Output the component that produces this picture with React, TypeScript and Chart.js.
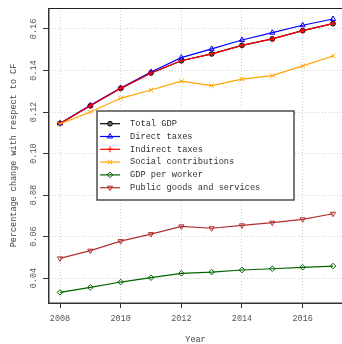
import React, { useEffect, useRef } from 'react';
import { Chart, registerables } from 'chart.js';
import { drawPoint } from 'chart.js/helpers';

Chart.register(...registerables);

const years = [2008, 2009, 2010, 2011, 2012, 2013, 2014, 2015, 2016, 2017];
const totalGDP = [0.1145, 0.1230, 0.1314, 0.1388, 0.1447, 0.1480, 0.1521, 0.1552, 0.1592, 0.1626];
const directTaxes = [0.1145, 0.1232, 0.1316, 0.1393, 0.1462, 0.1504, 0.1547, 0.1582, 0.1618, 0.1648];
const indirectTaxes = [0.1145, 0.1230, 0.1314, 0.1388, 0.1447, 0.1480, 0.1521, 0.1552, 0.1592, 0.1626];
const socialContributions = [0.1143, 0.1200, 0.1266, 0.1306, 0.1349, 0.1327, 0.1358, 0.1375, 0.1422, 0.1470];
const gdpPerWorker = [0.0331, 0.0355, 0.0381, 0.0402, 0.0423, 0.0429, 0.0439, 0.0445, 0.0452, 0.0458];
const publicGoods = [0.0495, 0.0532, 0.0578, 0.0612, 0.0649, 0.0640, 0.0654, 0.0667, 0.0683, 0.0710];

const xTicks = [2008, 2010, 2012, 2014, 2016];
const yTicks = [0.04, 0.06, 0.08, 0.10, 0.12, 0.14, 0.16];

const seriesNames = [
  'Total GDP',
  'Direct taxes',
  'Indirect taxes',
  'Social contributions',
  'GDP per worker',
  'Public goods and services',
];

const MONO = "'Liberation Mono', 'DejaVu Sans Mono', monospace";

type Style = {
  color: string;
  fill: string;
  pointStyle: string;
  radius: number;
  rotation: number;
};

const styles: Style[] = [
  { color: '#000000', fill: '#666666', pointStyle: 'circle', radius: 2.4, rotation: 0 },
  { color: '#0000ff', fill: 'rgba(255,255,255,0)', pointStyle: 'triangle', radius: 3, rotation: 0 },
  { color: '#ff0000', fill: 'rgba(255,255,255,0)', pointStyle: 'cross', radius: 3, rotation: 0 },
  { color: '#ffa500', fill: 'rgba(255,255,255,0)', pointStyle: 'crossRot', radius: 3.2, rotation: 0 },
  { color: '#006400', fill: 'rgba(255,255,255,0)', pointStyle: 'rectRot', radius: 2.8, rotation: 0 },
  { color: '#b0302f', fill: 'rgba(255,255,255,0)', pointStyle: 'triangle', radius: 3, rotation: 180 },
];

const seriesValues = [totalGDP, directTaxes, indirectTaxes, socialContributions, gdpPerWorker, publicGoods];

const framePlugin = {
  id: 'frame',
  afterDatasetsDraw(chart: any) {
    const { ctx, chartArea } = chart;
    const { left, top, right, bottom } = chartArea;
    ctx.save();
    ctx.strokeStyle = '#222';
    ctx.lineWidth = 1;
    ctx.beginPath();
    ctx.moveTo(left - 1, top + 0.5);
    ctx.lineTo(right, top + 0.5);
    ctx.stroke();
    ctx.strokeStyle = '#333';
    ctx.lineWidth = 1.5;
    ctx.beginPath();
    ctx.moveTo(left - 0.25, top);
    ctx.lineTo(left - 0.25, bottom + 0.25);
    ctx.lineTo(right, bottom + 0.25);
    ctx.stroke();

    // legend box
    const bx = 97, by = 111, bw = 197, bh = 89;
    ctx.fillStyle = '#ffffff';
    ctx.fillRect(bx, by, bw, bh);
    ctx.strokeStyle = '#4d4d4d';
    ctx.lineWidth = 1.5;
    ctx.strokeRect(bx, by, bw, bh);
    ctx.font = `8.7px ${MONO}`;
    ctx.textBaseline = 'middle';
    ctx.textAlign = 'left';
    seriesNames.forEach((name, i) => {
      const st = styles[i];
      const y = 123.7 + i * 12.8;
      ctx.strokeStyle = st.color;
      ctx.lineWidth = 1.2;
      ctx.beginPath();
      ctx.moveTo(100, y);
      ctx.lineTo(120, y);
      ctx.stroke();
      ctx.fillStyle = st.fill;
      ctx.strokeStyle = st.color;
      ctx.lineWidth = 1;
      drawPoint(ctx, { pointStyle: st.pointStyle as any, radius: st.radius, rotation: st.rotation, borderWidth: 1 } as any, 110, y);
      ctx.fillStyle = '#333';
      ctx.fillText(name, 130, y);
    });
    ctx.restore();
  },
};

export default function App() {
  const ref = useRef<HTMLCanvasElement | null>(null);

  useEffect(() => {
    document.body.style.margin = '0';
    const canvas = ref.current;
    if (!canvas) return;
    const datasets = seriesNames.map((name, i) => ({
      label: name,
      data: years.map((x, j) => ({ x, y: seriesValues[i][j] })),
      borderColor: styles[i].color,
      backgroundColor: styles[i].fill,
      pointBackgroundColor: styles[i].fill,
      pointBorderColor: styles[i].color,
      pointStyle: styles[i].pointStyle,
      pointRotation: styles[i].rotation,
      pointRadius: styles[i].radius,
      pointBorderWidth: 1,
      borderWidth: 1.2,
      tension: 0,
      fill: false,
      clip: false,
      order: 10 - i,
    }));

    const zeroPad = (s: any) => {
      s.paddingLeft = 0;
      s.paddingRight = 0;
      s.paddingTop = 0;
      s.paddingBottom = 0;
    };

    const tickFont = { family: MONO, size: 8.5, lineHeight: 1.2 };
    const chart = new Chart(canvas, {
      type: 'line',
      data: { datasets: datasets as any },
      plugins: [framePlugin],
      options: {
        animation: false,
        responsive: false,
        devicePixelRatio: 1,
        layout: { autoPadding: false, padding: { top: 8, left: 0, right: 0, bottom: 0 } },
        plugins: { legend: { display: false }, tooltip: { enabled: false } },
        events: [],
        scales: {
          x: {
            type: 'linear',
            position: 'bottom',
            min: 2007.637,
            max: 2017.297,
            afterBuildTicks: (s: any) => {
              s.ticks = xTicks.map((v) => ({ value: v }));
            },
            afterFit: (s: any) => {
              s.height = 41;
              zeroPad(s);
            },
            grid: {
              color: '#d0d0d0',
              lineWidth: 1,
              tickLength: 5,
              tickColor: '#333',
              tickWidth: 1,
            },
            border: { display: false, dash: [1, 2] },
            ticks: {
              font: tickFont,
              color: '#555',
              padding: 6,
              maxRotation: 0,
              minRotation: 0,
              callback: (v: any) => String(v),
            },
            title: {
              display: true,
              text: 'Year',
              font: { family: MONO, size: 8.5, lineHeight: 1 },
              color: '#444',
              padding: { top: 0, bottom: 0 },
            },
          },
          y: {
            type: 'linear',
            position: 'left',
            min: 0.028,
            max: 0.1701,
            afterBuildTicks: (s: any) => {
              s.ticks = yTicks.map((v) => ({ value: v }));
            },
            afterFit: (s: any) => {
              s.width = 49;
              zeroPad(s);
            },
            grid: {
              color: '#d0d0d0',
              lineWidth: 1,
              tickLength: 6,
              tickColor: '#333',
              tickWidth: 1,
            },
            border: { display: false, dash: [1, 2] },
            ticks: {
              font: tickFont,
              color: '#555',
              padding: -1,
              minRotation: 90,
              maxRotation: 90,
              crossAlign: 'center',
              callback: (v: any) => Number(v).toFixed(2),
            },
            title: {
              display: true,
              text: 'Percentage change with respect to CF',
              font: { family: MONO, size: 8.5, lineHeight: 1 },
              color: '#444',
              padding: { top: 9, bottom: 0 },
            },
          },
        },
      },
    } as any);
    return () => chart.destroy();
  }, []);

  return (
    <div style={{ position: 'fixed', left: 0, top: 0, width: 342, height: 344, background: '#fff' }}>
      <canvas ref={ref} width={342} height={344} style={{ width: 342, height: 344, display: 'block' }} />
    </div>
  );
}
